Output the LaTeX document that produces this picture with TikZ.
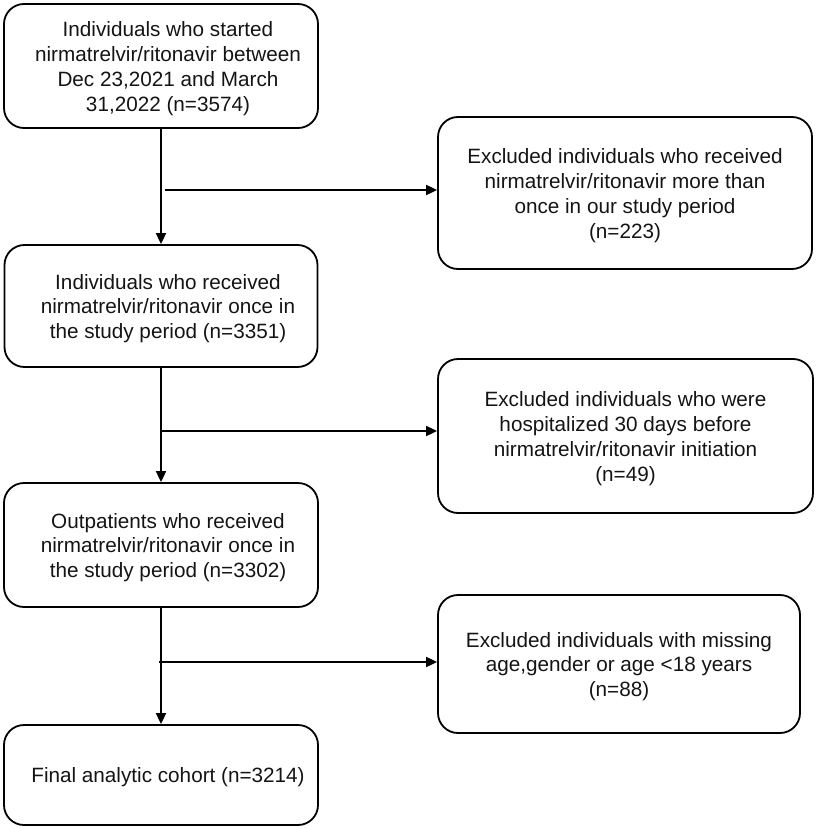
\documentclass[tikz,border=0pt]{standalone}
\usepackage{fontspec}
\setmainfont{Liberation Sans}
\usetikzlibrary{arrows.meta}
\begin{document}
\begin{tikzpicture}[x=1pt,y=-1pt,
  box/.style={draw=black,line width=1.8pt,rounded corners=20pt,inner sep=0pt},
  txt/.style={align=center,font=\fontsize{20.7}{24.8}\selectfont,inner sep=0pt,text=black!92},
  ltxt/.style={label={[txt,xshift=7pt,yshift=-2.5pt]center:{#1}}},
  rtxt/.style={label={[txt,yshift=-2.5pt]center:{#1}}},
  arr/.style={line width=1.8pt,-{Triangle[length=11pt,width=10pt]}}]
\useasboundingbox (0,0) rectangle (815,829);
\node[box,minimum width=314pt,minimum height=124pt,
  ltxt={Individuals who started\\nirmatrelvir/ritonavir between\\Dec 23,2021 and March\\31,2022 (n=3574)}] (b1) at (161,66) {};
\node[box,minimum width=374pt,minimum height=152pt,
  rtxt={Excluded individuals who received\\nirmatrelvir/ritonavir more than\\once in our study period\\(n=223)}] (e1) at (625,193) {};
\node[box,minimum width=313pt,minimum height=122pt,
  ltxt={Individuals who received\\nirmatrelvir/ritonavir once in\\the study period (n=3351)}] (b2) at (161,306) {};
\node[box,minimum width=375pt,minimum height=154pt,
  rtxt={Excluded individuals who were\\hospitalized 30 days before\\nirmatrelvir/ritonavir initiation\\(n=49)}] (e2) at (625.5,436) {};
\node[box,minimum width=314pt,minimum height=124pt,
  ltxt={Outpatients who received\\nirmatrelvir/ritonavir once in\\the study period (n=3302)}] (b3) at (161,545) {};
\node[box,minimum width=362pt,minimum height=138pt,
  rtxt={Excluded individuals with missing\\age,gender or age <18 years\\(n=88)}] (e3) at (619,664) {};
\node[box,minimum width=314pt,minimum height=100pt,
  ltxt={Final analytic cohort (n=3214)}] (b4) at (161,775) {};
\coordinate (j1) at (165,190);
\coordinate (j2) at (161,431);
\coordinate (j3) at (159,662);
\draw[arr] (b1.south) -- (b2.north);
\draw[arr] (b2.south) -- (b3.north);
\draw[arr] (b3.south) -- (b4.north);
\draw[arr] (j1) -- (j1 -| e1.west);
\draw[arr] (j2) -- (j2 -| e2.west);
\draw[arr] (j3) -- (j3 -| e3.west);
\end{tikzpicture}
\end{document}
